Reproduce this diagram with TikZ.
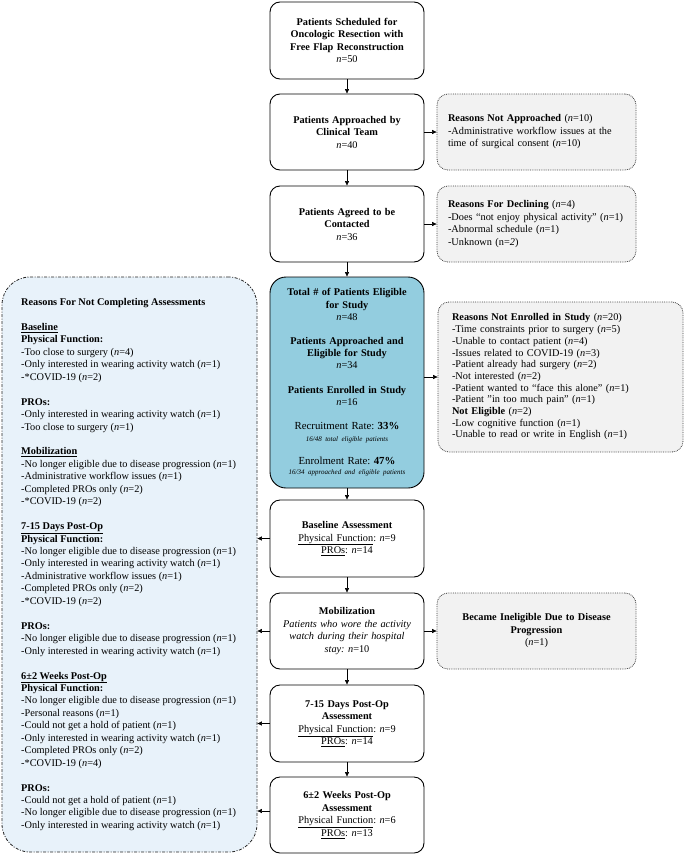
\documentclass[tikz,border=0pt]{standalone}
\usepackage{fontspec}
\setmainfont{Liberation Serif}
\usetikzlibrary{arrows.meta}
\definecolor{bluefill}{HTML}{93CDDF}
\definecolor{panelfill}{HTML}{E8F2FA}
\definecolor{grayfill}{HTML}{F2F2F2}
\newcommand{\myn}{\textit{n}}
\frenchspacing
\begin{document}
\begin{tikzpicture}[x=1pt,y=-1pt,
  mainbox/.style={draw, line width=0.9pt, rounded corners=10pt, fill=white,
    minimum width=154pt, text width=148pt, inner xsep=3pt, align=center,
    font=\fontsize{10.3}{12.5}\selectfont},
  bluebox/.style={mainbox, rounded corners=16pt, fill=bluefill},
  graybox/.style={draw=black!75, densely dotted, line width=0.8pt, rounded corners=11pt,
    fill=grayfill, align=left, font=\fontsize{10.3}{12.5}\selectfont},
  panel/.style={draw=black!85, line width=0.8pt, dash pattern=on 3pt off 1.5pt on 1pt off 1.5pt,
    rounded corners=28pt, fill=panelfill},
  paneltext/.style={align=left, inner sep=0pt, font=\fontsize{10.3}{12.45}\selectfont},
  arr/.style={line width=0.6pt, -{Triangle[length=4.5pt,width=4pt]}}
]
\useasboundingbox (0,0) rectangle (685,854);

% main column
\node[mainbox, minimum height=77pt] (b1) at (347,40.5)
  {\textbf{Patients Scheduled for\\Oncologic Resection with\\Free Flap Reconstruction}\\\myn=50};
\node[mainbox, minimum height=76pt] (b2) at (347,132)
  {\textbf{Patients Approached by\\Clinical Team}\\\myn=40};
\node[mainbox, minimum height=76pt] (b3) at (347,224)
  {\textbf{Patients Agreed to be\\Contacted}\\\myn=36};
\node[bluebox, minimum height=211pt, font=\fontsize{10.3}{12.3}\selectfont] (bl) at (347,382.5)
  {\textbf{Total \# of Patients Eligible\\for Study}\\\myn=48\\[11.5pt]
   \textbf{Patients Approached and\\Eligible for Study}\\\myn=34\\[12pt]
   \textbf{Patients Enrolled in Study}\\\myn=16\\[11.5pt]
   {\fontsize{10.8}{12}\selectfont Recruitment Rate: \textbf{33\%}}\\
   {\fontsize{7}{9}\selectfont\itshape 16/48 total eligible patients}\\[11pt]
   {\fontsize{10.8}{12}\selectfont Enrolment Rate: \textbf{47\%}}\\[-2.5pt]
   {\fontsize{7}{9}\selectfont\itshape 16/34 approached and eligible patients}};
\node[mainbox, minimum height=77pt] (b5) at (347,538.5)
  {\textbf{Baseline Assessment}\\\underline{Physical Function}: \myn=9\\\underline{PROs}: \myn=14};
\node[mainbox, minimum height=76pt] (b6) at (347,631)
  {\textbf{Mobilization}\\\textit{Patients who wore the activity\\watch during their hospital\\stay:} \myn=10};
\node[mainbox, minimum height=77pt] (b7) at (347,723.5)
  {\textbf{7-15 Days Post-Op\\Assessment}\\\underline{Physical Function}: \myn=9\\\underline{PROs}: \myn=14};
\node[mainbox, minimum height=76pt] (b8) at (347,815)
  {\textbf{6±2 Weeks Post-Op\\Assessment}\\\underline{Physical Function}: \myn=6\\\underline{PROs}: \myn=13};

% right boxes
\node[graybox, minimum width=199pt, minimum height=76pt, text width=177pt, inner xsep=11pt] (r1) at (536.5,132)
  {\textbf{Reasons Not Approached} (\myn=10)\\-Administrative workflow issues at the\\time of surgical consent (\myn=10)};
\node[graybox, minimum width=199pt, minimum height=76pt, text width=177pt, inner xsep=11pt] (r2) at (536.5,224)
  {\textbf{Reasons For Declining} (\myn=4)\\-Does “not enjoy physical activity” (\myn=1)\\-Abnormal schedule (\myn=1)\\-Unknown (n=\textit{2})};
\node[graybox, minimum width=245pt, minimum height=150pt, text width=217pt, inner xsep=14pt,
  font=\fontsize{10.3}{11.7}\selectfont] (r3) at (560.5,377)
  {\textbf{Reasons Not Enrolled in Study} (\myn=20)\\
   -Time constraints prior to surgery (\myn=5)\\
   -Unable to contact patient (\myn=4)\\
   -Issues related to COVID-19 (\myn=3)\\
   -Patient already had surgery (\myn=2)\\
   -Not interested (\myn=2)\\
   -Patient wanted to “face this alone” (\myn=1)\\
   -Patient ”in too much pain” (\myn=1)\\
   \textbf{Not Eligible} (\myn=2)\\
   -Low cognitive function (\myn=1)\\
   -Unable to read or write in English (\myn=1)};
\node[graybox, minimum width=199pt, minimum height=76pt, text width=177pt, inner xsep=11pt, align=center] (r4) at (536.5,631)
  {\textbf{Became Ineligible Due to Disease\\Progression}\\(\myn=1)};

% left panel
\node[panel, minimum width=255pt, minimum height=575pt] (lp) at (129.5,564.5) {};
\node[paneltext, anchor=west] (lpt) at (21,564.5)
  {\textbf{Reasons For Not Completing Assessments}\\[12.45pt]
   \underline{\textbf{Baseline}}\\
   \textbf{Physical Function:}\\
   -Too close to surgery (\myn=4)\\
   -Only interested in wearing activity watch (\myn=1)\\
   -*COVID-19 (\myn=2)\\[12.45pt]
   \textbf{PROs:}\\
   -Only interested in wearing activity watch (\myn=1)\\
   -Too close to surgery (\myn=1)\\[12.45pt]
   \underline{\textbf{Mobilization}}\\
   -No longer eligible due to disease progression (\myn=1)\\
   -Administrative workflow issues (\myn=1)\\
   -Completed PROs only (\myn=2)\\
   -*COVID-19 (\myn=2)\\[12.45pt]
   \underline{\textbf{7-15 Days Post-Op}}\\
   \textbf{Physical Function:}\\
   -No longer eligible due to disease progression (\myn=1)\\
   -Only interested in wearing activity watch (\myn=1)\\
   -Administrative workflow issues (\myn=1)\\
   -Completed PROs only (\myn=2)\\
   -*COVID-19 (\myn=2)\\[12.45pt]
   \textbf{PROs:}\\
   -No longer eligible due to disease progression (\myn=1)\\
   -Only interested in wearing activity watch (\myn=1)\\[12.45pt]
   \underline{\textbf{6±2 Weeks Post-Op}}\\
   \textbf{Physical Function:}\\
   -No longer eligible due to disease progression (\myn=1)\\
   -Personal reasons (\myn=1)\\
   -Could not get a hold of patient (\myn=1)\\
   -Only interested in wearing activity watch (\myn=1)\\
   -Completed PROs only (\myn=2)\\
   -*COVID-19 (\myn=4)\\[12.45pt]
   \textbf{PROs:}\\
   -Could not get a hold of patient (\myn=1)\\
   -No longer eligible due to disease progression (\myn=1)\\
   -Only interested in wearing activity watch (\myn=1)};

% vertical connectors
\draw[arr] (b1) -- (b2);
\draw[arr] (b2) -- (b3);
\draw[arr] (b3) -- (bl);
\draw[arr] (bl) -- (b5);
\draw[arr] (b5) -- (b6);
\draw[arr] (b6) -- (b7);
\draw[arr] (b7) -- (b8);

% right connectors
\draw[arr] (b2.east) -- (r1.west);
\draw[arr] (b3.east) -- (r2.west);
\draw[arr] (r3.west -| bl.east) -- (r3.west);
\draw[arr] (b6.east) -- (r4.west);

% left connectors
\draw[arr] (b5.west) -- (b5.west -| lp.east);
\draw[arr] (b6.west) -- (b6.west -| lp.east);
\draw[arr] (b7.west) -- (b7.west -| lp.east);
\draw[arr] ([yshift=4pt]b8.west) -- ([yshift=4pt]b8.west -| lp.east);
\end{tikzpicture}
\end{document}
